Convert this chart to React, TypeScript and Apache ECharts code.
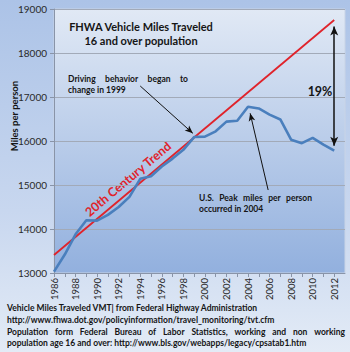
import React, { useEffect, useRef } from 'react';
import * as echarts from 'echarts';

const years = [1986, 1987, 1988, 1989, 1990, 1991, 1992, 1993, 1994, 1995, 1996, 1997, 1998, 1999, 2000, 2001, 2002, 2003, 2004, 2005, 2006, 2007, 2008, 2009, 2010, 2011, 2012];
const milesPerPerson = [13030, 13420, 13880, 14200, 14190, 14320, 14500, 14730, 15140, 15200, 15420, 15600, 15800, 16090, 16100, 16220, 16440, 16460, 16780, 16740, 16600, 16490, 16030, 15950, 16070, 15920, 15780];
const trendYears = [1986, 2012];
const trendValues = [13410, 18750];
const yMin = 13000;
const yMax = 19000;
const yStep = 1000;
const xMin = 1986;
const xMax = 2013;

const titleLines = ['FHWA Vehicle Miles Traveled', '16 and over population'];
const note1999 = ['Driving behavior began to', 'change in 1999'];
const notePeak = ['U.S. Peak miles per person', 'occurred in 2004'];
const footer = [
  'Vehicle Miles Traveled VMT| from Federal Highway Administration',
  'http://www.fhwa.dot.gov/policyinformation/travel_monitoring/tvt.cfm',
  'Population form Federal Bureau of Labor Statistics, working and non working',
  'population age 16 and over: http://www.bls.gov/webapps/legacy/cpsatab1.htm',
];

const FONT = 'Lato, "Open Sans", sans-serif';

function measure(text: string, size: number, weight = 'bold') {
  const c = document.createElement('canvas').getContext('2d');
  if (!c) return text.length * size * 0.5;
  c.font = `${weight} ${size}px Lato`;
  return c.measureText(text).width;
}

function textEl(text: string, x: number, y: number, size: number, extra: any = {}) {
  return {
    type: 'text',
    x,
    y,
    silent: true,
    style: {
      text,
      fill: extra.fill || '#151515',
      fontSize: size,
      fontWeight: 'bold',
      fontFamily: FONT,
      textAlign: extra.align || 'left',
      textVerticalAlign: 'middle',
    },
    ...(extra.rotation !== undefined ? { rotation: extra.rotation } : {}),
  };
}

function justified(line: string, x0: number, x1: number, y: number, size: number) {
  const words = line.split(' ');
  const widths = words.map((w) => measure(w, size));
  const total = widths.reduce((a, b) => a + b, 0);
  const gap = words.length > 1 ? (x1 - x0 - total) / (words.length - 1) : 0;
  const els: any[] = [];
  let x = x0;
  words.forEach((w, i) => {
    els.push(textEl(w, x, y, size));
    x += widths[i] + gap;
  });
  return els;
}

export default function App() {
  const ref = useRef<HTMLDivElement>(null);
  useEffect(() => {
    if (!ref.current) return;
    const chart = echarts.init(ref.current, undefined, { renderer: 'svg' });
    const blueData = years.map((y, i) => [y, milesPerPerson[i]]);
    const trendData = trendYears.map((y, i) => [y, trendValues[i]]);

    const graphics: any[] = [
      textEl(titleLines[0], 141, 26, 11, { align: 'center' }),
      textEl(titleLines[1], 141, 40, 11, { align: 'center' }),
      ...justified(note1999[0], 68, 188, 79, 8.5),
      textEl(note1999[1], 68, 89.5, 8.5),
      ...justified(notePeak[0], 199, 312, 198, 8.5),
      textEl(notePeak[1], 199, 208.5, 8.5),
      textEl('19%', 320, 91, 12.5, { align: 'center' }),
      textEl('20th Century Trend', 128, 179, 12.5, { align: 'center', fill: '#e0232b', rotation: 0.7 }),
      textEl('Miles per person', 14, 116, 9.5, { align: 'center', rotation: Math.PI / 2 }),
      textEl(footer[0], 7, 308, 8.5),
      textEl(footer[1], 7, 320, 8.5),
      ...justified(footer[2], 7, 345, 331.5, 8.5),
      textEl(footer[3], 7, 342.5, 8.5),
    ];

    chart.setOption({
      animation: false,
      backgroundColor: new echarts.graphic.LinearGradient(0, 0, 0, 1, [
        { offset: 0, color: '#acc3e7' },
        { offset: 0.6, color: '#c8d7ef' },
        { offset: 1, color: '#e3ebf6' },
      ]),
      grid: {
        left: 54,
        top: 9,
        right: 5,
        bottom: 79,
        show: true,
        borderColor: '#c9d4e6',
        borderWidth: 1,
        backgroundColor: new echarts.graphic.LinearGradient(0, 0, 0, 1, [
          { offset: 0, color: '#e1e9f5' },
          { offset: 1, color: '#92b0de' },
        ]),
      },
      xAxis: {
        type: 'value',
        min: xMin,
        max: xMax,
        interval: 1,
        axisLine: { show: true, lineStyle: { color: '#8994a8' } },
        axisTick: { show: true, length: 4, lineStyle: { color: '#8994a8' } },
        splitLine: { show: false },
        axisLabel: {
          rotate: 90,
          fontSize: 9.5,
          color: '#2a2a2a',
          fontFamily: FONT,
          margin: 5,
          showMaxLabel: false,
          formatter: (v: number) => (v % 2 === 0 && v < xMax ? String(v) : ''),
        },
      },
      yAxis: {
        type: 'value',
        min: yMin,
        max: yMax,
        interval: yStep,
        axisLine: { show: true, lineStyle: { color: '#8994a8' } },
        axisTick: { show: true, length: 4, lineStyle: { color: '#8994a8' } },
        splitLine: { show: true, lineStyle: { color: '#a2aab8', width: 1 } },
        axisLabel: {
          fontSize: 10,
          color: '#2a2a2a',
          fontFamily: FONT,
          margin: 7,
          formatter: (v: number) => String(v),
        },
      },
      series: [
        {
          type: 'line',
          data: trendData,
          showSymbol: false,
          symbol: 'none',
          lineStyle: { color: '#e0232b', width: 1.8 },
          z: 3,
          markLine: {
            silent: true,
            animation: false,
            symbol: ['arrow', 'arrow'],
            symbolSize: [6, 9],
            label: { show: false },
            lineStyle: { color: '#111111', width: 1.5, type: 'solid' },
            data: [[{ coord: [2012, 18600] }, { coord: [2012, 15890] }]],
          },
        },
        {
          type: 'line',
          data: blueData,
          showSymbol: false,
          symbol: 'none',
          lineStyle: { color: '#4a7fbd', width: 2.6 },
          z: 4,
          markLine: {
            silent: true,
            animation: false,
            symbol: ['none', 'arrow'],
            symbolSize: [5, 8],
            label: { show: false },
            lineStyle: { color: '#111111', width: 1, type: 'solid' },
            data: [
              [{ coord: [1994, 17250] }, { coord: [1998.88, 16175] }],
              [{ coord: [2005.87, 14886] }, { coord: [2004.2, 16630] }],
            ],
          },
        },
      ],
      graphic: graphics,
    });
    return () => chart.dispose();
  }, []);
  return <div ref={ref} style={{ position: 'fixed', left: 0, top: 0, width: 350, height: 352 }} />;
}
